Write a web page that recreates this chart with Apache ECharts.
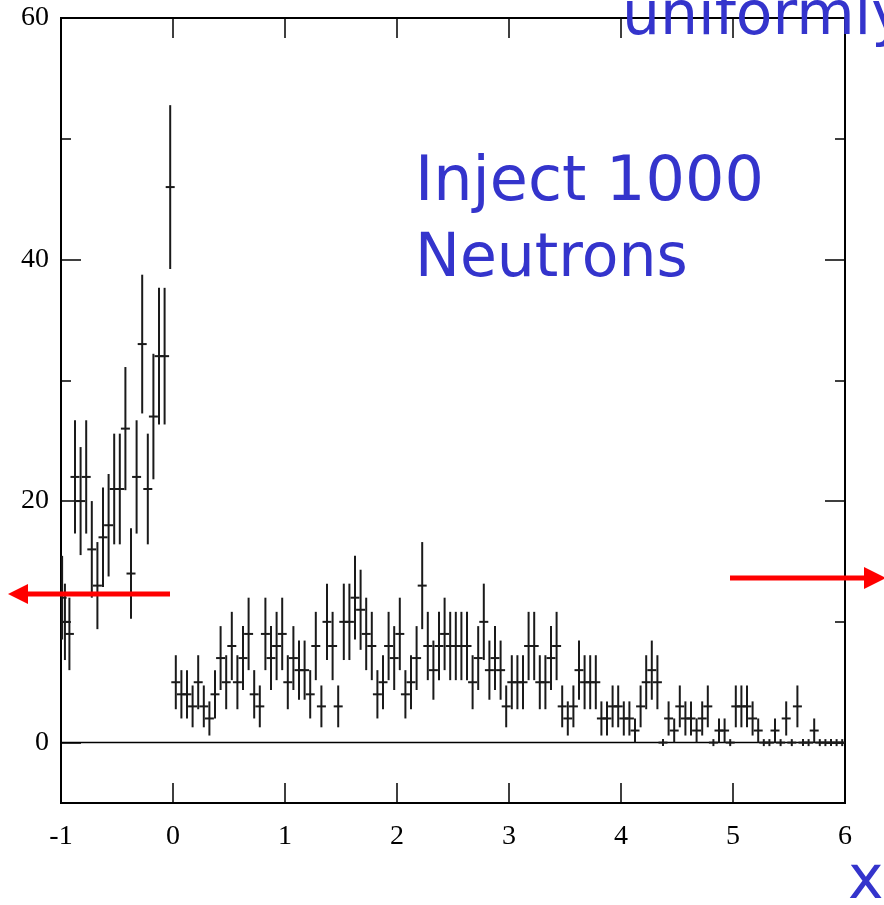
<!DOCTYPE html>
<html><head><meta charset="utf-8">
<script src="https://cdn.jsdelivr.net/npm/echarts@6/dist/echarts.min.js"></script>
<style>html,body{margin:0;padding:0;background:#fff;}#c{width:884px;height:905px;}</style>
</head><body><div id="c"></div>
<script>
// Bin centres left of the boundary (x < 0)
const leftCenters = [-0.99, -0.965, -0.925, -0.875, -0.825, -0.775, -0.725, -0.675, -0.625, -0.575,
  -0.525, -0.475, -0.425, -0.375, -0.325, -0.275, -0.225, -0.175, -0.125, -0.075, -0.025];
const leftCounts = [12, 10, 9, 22, 20, 22, 16, 13, 17, 18,
  21, 21, 26, 14, 22, 33, 21, 27, 32, 32, 46];
// Bins right of the boundary (x > 0), width 0.05 starting at 0
const rightBinStart = 0.0;
const rightBinWidth = 0.05;
const rightCounts = [
  5,4,4,3,5,3,2,4,7,5, 8,5,7,9,4,3,9,7,8,9, 5,7,6,6,4,8,3,
  10,8,3,10,10,12,11,9,8,4,5,8,7,9,
  4,5,7,13,8,6,8,9,8,8,8,8,5,7,10,6,7,6,
  3,5,5,5,8,8,5,5,7,8,3,2,3,6,5,5,5,2,2,3,3,2,2,1,
  3,5,6,5,0,2,1,3,2,2,1,2,3,0,1,1,0,3,3,3,2,1,0,0,1,0,2,0,3,0,0,1,0,0,0,0,0
];
const xTicks = [-1, 0, 1, 2, 3, 4, 5, 6];
const yMajorTicks = [0, 20, 40, 60];
const yMinorTicks = [10, 30, 50];

const points = [];
leftCenters.forEach((x, i) => points.push([x, leftCounts[i], Math.sqrt(leftCounts[i])]));
rightCounts.forEach((n, i) => points.push([rightBinStart + rightBinWidth * (i + 0.5), n, Math.sqrt(n)]));

const INK = '#1a1a1a';
function renderItem(params, api) {
  const x = api.value(0), y = api.value(1), e = api.value(2);
  const c = api.coord([x, y]);
  const t = api.coord([x, y + e]);
  const b = api.coord([x, y - e]);
  const halfW = 4.5, tick = 3.5;
  return {type: 'group', children: [
    {type: 'line', shape: {x1: c[0], y1: Math.min(t[1], c[1] - tick), x2: c[0], y2: Math.max(b[1], c[1] + tick)},
      style: {stroke: INK, lineWidth: 2}},
    {type: 'line', shape: {x1: c[0] - halfW, y1: c[1], x2: c[0] + halfW, y2: c[1]},
      style: {stroke: INK, lineWidth: 2}}
  ]};
}

const serif = 'Liberation Serif';
function xAx(pos, showLabel) {
  return {type: 'value', min: -1, max: 6, interval: 1, position: pos,
    axisLine: {show: false, onZero: false}, splitLine: {show: false},
    axisTick: {show: true, inside: true, length: 20, lineStyle: {color: '#000', width: 1.5}},
    axisLabel: {show: showLabel, fontFamily: serif, fontSize: 28, color: '#000', margin: 20,
      customValues: xTicks}};
}
function yAx(pos, vals, len, showLabel) {
  return {type: 'value', min: -5, max: 60, position: pos,
    axisLine: {show: false, onZero: false}, splitLine: {show: false},
    axisTick: {show: true, inside: true, length: len, customValues: vals, lineStyle: {color: '#000', width: 1.5}},
    axisLabel: {show: showLabel, fontFamily: serif, fontSize: 28, color: '#000', margin: 12,
      padding: [8, 0, 0, 0], customValues: vals}};
}

const blue = '#3434CC';
const font = '60px "DejaVu Sans"';
const chart = echarts.init(document.getElementById('c'), null, {renderer: 'canvas'});
chart.setOption({
  animation: false,
  backgroundColor: '#fff',
  grid: {left: 61, right: 39, top: 18, bottom: 102, show: true, borderColor: '#000', borderWidth: 2, backgroundColor: '#fff'},
  xAxis: [xAx('bottom', true), xAx('top', false)],
  yAxis: [yAx('left', yMajorTicks, 20, true), yAx('left', yMinorTicks, 10, false),
          yAx('right', yMajorTicks, 20, false), yAx('right', yMinorTicks, 10, false)],
  series: [
    {type: 'line', data: [[-1, 0], [6, 0]], symbol: 'none', lineStyle: {color: '#000', width: 1.5}, z: 1, silent: true},
    {type: 'custom', renderItem: renderItem, data: points, encode: {x: 0, y: 1}, z: 2, clip: true}
  ],
  graphic: [
    {type: 'text', x: 415, y: 153, style: {text: 'Inject 1000', font: '62px "DejaVu Sans"', fill: blue}, z: 10},
    {type: 'text', x: 415, y: 230, style: {text: 'Neutrons', font: font, fill: blue}, z: 10},
    {type: 'text', x: 622, y: -12, style: {text: 'uniformly', font: font, fill: blue}, z: 10},
    {type: 'text', x: 848, y: 852, style: {text: 'x', font: font, fill: blue}, z: 10},
    {type: 'line', shape: {x1: 170, y1: 594, x2: 22, y2: 594}, style: {stroke: '#ff0000', lineWidth: 5}, z: 10},
    {type: 'polygon', shape: {points: [[8, 594], [28, 584], [28, 604]]}, style: {fill: '#ff0000'}, z: 10},
    {type: 'line', shape: {x1: 730, y1: 578, x2: 866, y2: 578}, style: {stroke: '#ff0000', lineWidth: 5}, z: 10},
    {type: 'polygon', shape: {points: [[886, 578], [864, 567], [864, 589]]}, style: {fill: '#ff0000'}, z: 10}
  ]
});
</script></body></html>
